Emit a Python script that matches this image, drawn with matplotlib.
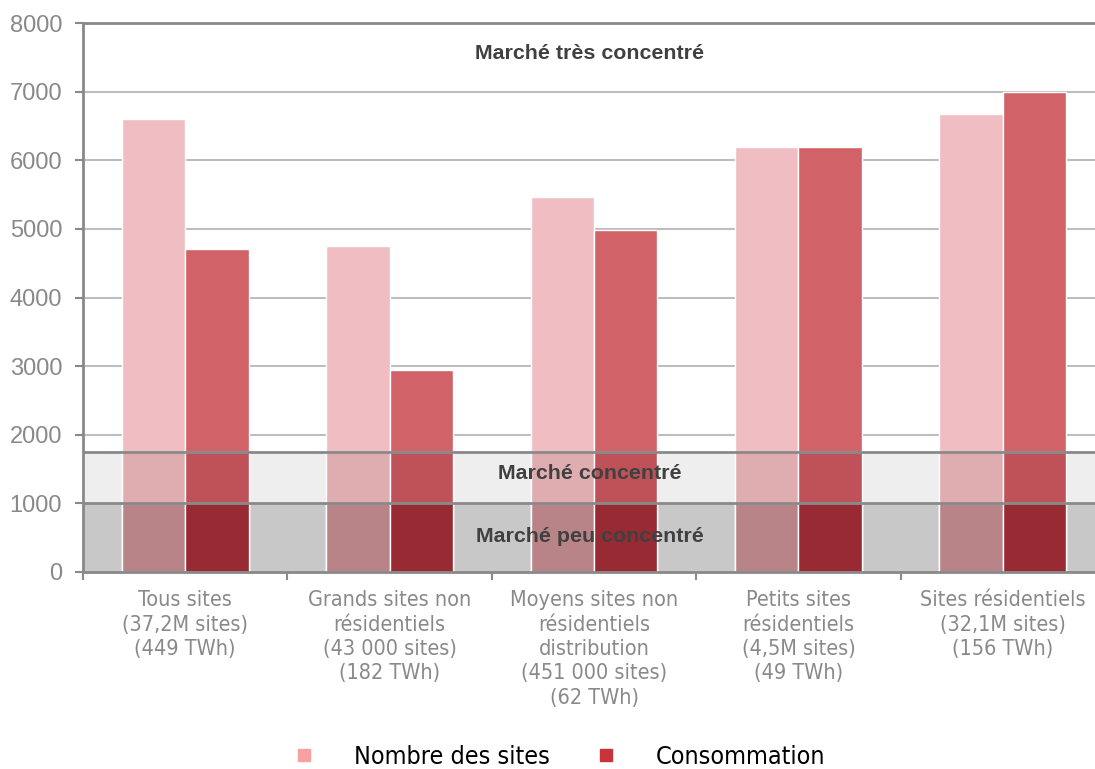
import numpy as np
import matplotlib.pyplot as plt
from matplotlib.lines import Line2D
from matplotlib import font_manager

categories = ['Tous sites\n(37,2M sites)\n(449 TWh)',
              'Grands sites non\nrésidentiels\n(43 000 sites)\n(182 TWh)',
              'Moyens sites non\nrésidentiels\ndistribution\n(451 000 sites)\n(62 TWh)',
              'Petits sites\nrésidentiels\n(4,5M sites)\n(49 TWh)',
              'Sites résidentiels\n(32,1M sites)\n(156 TWh)']
nb_sites = [6600, 4750, 5470, 6200, 6680]
consommation = [4700, 2950, 4980, 6190, 7000]
seuil_bas = 1000
seuil_haut = 1750
series_names = ['Nombre des sites', 'Consommation']

cond = font_manager.FontProperties(family='DejaVu Sans', stretch='condensed', size=15.5)

fig = plt.figure(figsize=(10.95, 7.69), dpi=100)
ax = fig.add_axes([83/1095, 1-572/769, (1105-83)/1095, (572-23)/769])

x = np.arange(len(categories))
w = 0.31

# zones de concentration
ax.axhspan(0, seuil_bas, color='#c8c8c8', zorder=0, lw=0)
ax.axhspan(seuil_bas, seuil_haut, color='#eeeeee', zorder=0, lw=0)

for y in range(2000, 8001, 1000):
    ax.axhline(y, color='#bdbdbd', lw=1.5, zorder=0.5)

# bars, darker where they cross the bands
pink = ['#f0bec2', '#dfacb0', '#b88488']
red = ['#d06268', '#be5258', '#972a32']
for vals, off, cols in [(nb_sites, -w/2, pink), (consommation, w/2, red)]:
    vals = np.array(vals)
    ax.bar(x + off, vals, w, color=cols[0], edgecolor='white', lw=1, zorder=2)
    ax.bar(x + off, np.minimum(vals, seuil_haut), w, color=cols[1], edgecolor='white', lw=1, zorder=2.1)
    ax.bar(x + off, np.minimum(vals, seuil_bas), w, color=cols[2], edgecolor='white', lw=1, zorder=2.2)

ax.axhline(seuil_bas, color='#898989', lw=2, zorder=3)
ax.axhline(seuil_haut, color='#898989', lw=2, zorder=3)

tkw = dict(ha='center', va='center', fontsize=15.4, fontweight='bold', color='#404040',
           family='Liberation Sans', zorder=4)
ax.text(1.98, 7550, 'Marché très concentré', **tkw)
ax.text(1.98, 1440, 'Marché concentré', **tkw)
ax.text(1.98, 520, 'Marché peu concentré', **tkw)

ax.set_xlim(-0.5, 4.5)
ax.set_ylim(0, 8000)
ax.set_yticks(range(0, 8001, 1000))
ax.tick_params(axis='y', colors='#898989', labelsize=17, length=6, width=1.5, pad=9)
for t in ax.get_yticklabels():
    t.set_family('Liberation Sans')
ax.set_xticks(x)
ax.set_xticklabels(categories, color='#898989', fontproperties=cond, linespacing=1.28, va='top')
ax.tick_params(axis='x', length=0, pad=13)
ax.set_xticks(np.arange(-0.5, 5, 1), minor=True)
ax.tick_params(axis='x', which='minor', length=6, width=1.5, color='#898989')
for s in ['left', 'bottom', 'top', 'right']:
    ax.spines[s].set_color('#898989')
    ax.spines[s].set_linewidth(2)
ax.spines['bottom'].set_zorder(3)

handles = [Line2D([], [], ls='', marker='s', markersize=8.5, color='#f9a0a0'),
           Line2D([], [], ls='', marker='s', markersize=8.5, color='#c8323a')]
fig.legend(handles, series_names, loc='center', bbox_to_anchor=(0.504, 0.016), ncol=2,
           frameon=False, handlelength=2.0, handletextpad=1.0, columnspacing=1.24,
           prop=font_manager.FontProperties(family='DejaVu Sans', stretch='condensed', size=18))

fig.savefig('out.png', dpi=100)
